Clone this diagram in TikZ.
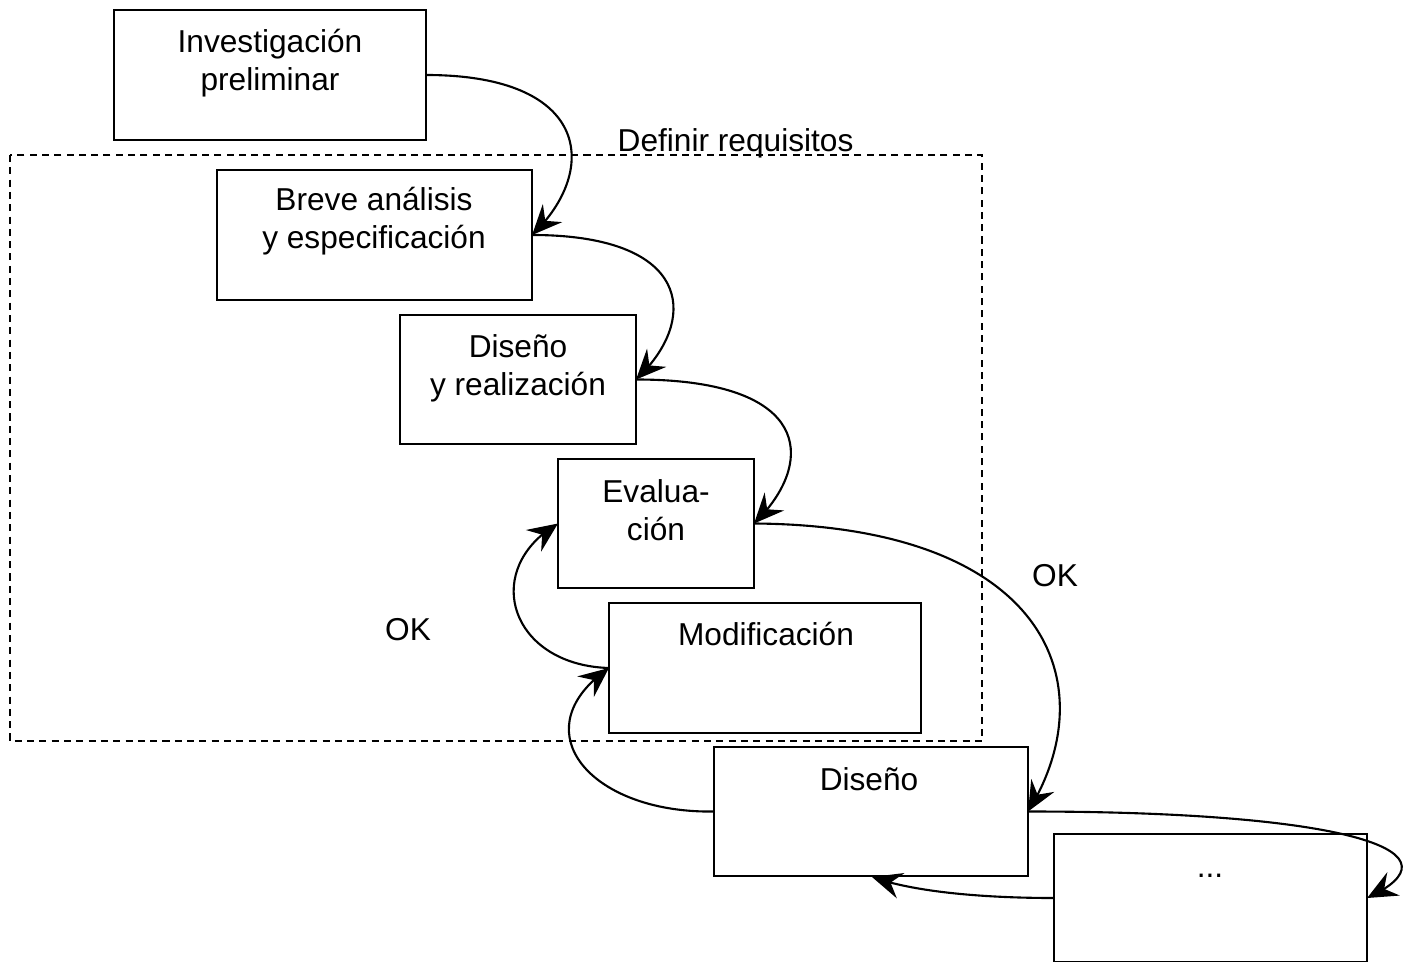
\documentclass[tikz,border=0pt]{standalone}
\usepackage{fontspec}
\setmainfont{Liberation Sans}
\usetikzlibrary{arrows.meta,bending}

\begin{document}
\begin{tikzpicture}[x=0.01cm,y=-0.01cm,
  box/.style={draw,line width=0.7pt,inner sep=0pt,outer sep=0pt},
  lbl/.style={inner sep=0pt,align=center,font=\fontsize{9pt}{10.8pt}\selectfont},
  flow/.style={line width=0.6pt,-{Stealth[length=8.5pt,width=7.5pt,inset=3pt]}},
  reqframe/.style={line width=0.6pt,dash pattern=on 2pt off 1.5pt}]
\useasboundingbox (0,0) rectangle (1410,961);

% stage boxes
\node[box,minimum width=3.12cm,minimum height=1.30cm] (inv)  at (270,75)     {};
\node[box,minimum width=3.15cm,minimum height=1.30cm] (bre)  at (374.5,235)  {};
\node[box,minimum width=2.36cm,minimum height=1.29cm] (dyr)  at (518,379.5)  {};
\node[box,minimum width=1.96cm,minimum height=1.29cm] (eva)  at (656,523.5)  {};
\node[box,minimum width=3.12cm,minimum height=1.30cm] (mod)  at (765,668)    {};
\node[box,minimum width=3.14cm,minimum height=1.29cm] (dis)  at (871,811.5)  {};
\node[box,minimum width=3.13cm,minimum height=1.28cm] (dots) at (1210.5,898) {};

% requirements frame
\draw[reqframe] (10,155) rectangle (982,741);

% texts
\node[lbl] (tinv) at (270,63)  {Investigación\\preliminar};
\node[lbl] (tbre) at (374,221) {Breve análisis\\y especificación};
\node[lbl] (tdyr) at (518,368) {Diseño\\y realización};
\node[lbl] (teva) at (656,510) {Evalua-\\ción};
\node[lbl] (tmod) at (766,634) {Modificación};
\node[lbl] (tdis) at (869,779) {Diseño};
\node[lbl,anchor=base] (tdots) at (1210,877) {...};
\node[lbl,anchor=base west] (treq) at (617,152) {Definir requisitos};
\node[lbl] (ok1) at (408,630)  {OK};
\node[lbl] (ok2) at (1055,576) {OK};

% free end of the return arrow
\coordinate (back) at (872,877);

% connectors
\draw[flow] (inv.east) .. controls +(164,0) and +(68,-65) .. (bre.east);
\draw[flow] (bre.east) .. controls +(160,0) and +(64,-60) .. (dyr.east);
\draw[flow] (dyr.east) .. controls +(178,0) and +(62,-60) .. (eva.east);
\draw[flow] (eva.east) .. controls +(290,2) and +(80,-130) .. (dis.east);
\draw[flow] (dis.east) .. controls +(312,0) and +(103,-48) .. (dots.east);
\draw[flow] (dots.west) .. controls +(-64,0) and +(45,16) .. (back);
\draw[flow] (mod.west) .. controls +(-99,-3) and +(-78,46) .. (eva.west);
\draw[flow] (dis.west) .. controls +(-124,2) and +(-89,62) .. (mod.west);
\end{tikzpicture}
\end{document}
